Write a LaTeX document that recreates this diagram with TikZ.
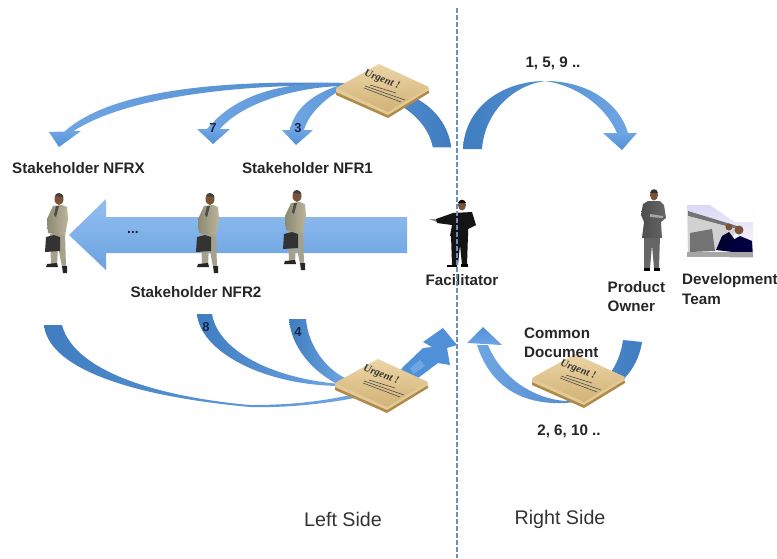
\documentclass[tikz,border=0pt]{standalone}
\usepackage{fontspec}
\setmainfont{Liberation Sans}
\newfontfamily\handf{Liberation Serif}
\definecolor{ad}{HTML}{3F7DC0}
\definecolor{am}{HTML}{6FA5E3}
\definecolor{al}{HTML}{93BFF0}
\definecolor{hd}{HTML}{4F90D8}
\definecolor{navy}{HTML}{14264F}
\definecolor{tan1}{HTML}{EBD5A6}
\definecolor{tan2}{HTML}{D2B276}
\definecolor{tan3}{HTML}{B08A48}
\definecolor{suit}{HTML}{B9B49A}
\definecolor{suitd}{HTML}{8E8A72}
\definecolor{leg}{HTML}{A5A18A}
\definecolor{skin}{HTML}{7A5238}
\tikzset{
 darkleft/.style={left color=ad,middle color=al,right color=am},
 darkright/.style={left color=am,middle color=al,right color=ad},
 headsh/.style={top color=am,bottom color=hd},
 lowband/.style={left color=ad,right color=am},
 lab/.style={font=\fontsize{15.2}{17}\selectfont\bfseries,text=black!85,inner sep=0pt},
 labl/.style={lab,anchor=west},
 num/.style={font=\fontsize{13}{15}\selectfont\bfseries,text=navy,inner sep=0pt},
 side/.style={font=\fontsize{19.7}{22}\selectfont,text=black!80,inner sep=0pt},
}
\newcommand{\urgentnote}[3]{%
 \begin{scope}[shift={(#1,#2)}]
  \fill[tan3] (0,1) -- (43,-22) -- (93,1) -- (93,3) -- (52,28) -- (0,5) -- cycle;
  \fill[tan1!85!tan3] (0,-1) -- (43,-24) -- (93,-2) -- (93,0) -- (52,25) -- (0,2) -- cycle;
  \shade[top color=tan1,bottom color=tan2] (0,-2) -- (43,-26) -- (93,-3) -- (52,22) -- cycle;
  \node[rotate=-20,inner sep=0pt,text=black!80,font=\fontsize{10.5}{11}\selectfont\handf\bfseries\itshape] (#3) at (46,-10) {Urgent !};
  \draw[black!70,line width=.6pt] (28,-2) -- (65,12);
  \draw[black!70,line width=.6pt] (29,-4) -- (69,10);
  \draw[black!70,line width=.6pt] (34,-5) -- (60,3);
 \end{scope}}
\newcommand{\stakeperson}[2]{%
 \begin{scope}[shift={(#1,#2)}]
  \fill[leg] (-9,35) -- (-8,66) -- (-2,66) -- (-1,47) -- (3,68) -- (7,68) -- (6,35) -- cycle;
  \fill[black!85] (-12,65) -- (-2,64) -- (-1,68) -- (-13,68) -- cycle;
  \fill[black!85] (3,67) -- (8,67) -- (8,74) -- (4,74) -- cycle;
  \shade[left color=suitd,right color=suit] (-6,7) -- (3,6) -- (8,8) -- (9,20) -- (6,37) -- (-11,34) -- (-12,20) -- cycle;
  \fill[black!70] (-3,7) -- (0,7) -- (-3,18) -- (-5,16) -- cycle;
  \fill[black!80] (-13,38) -- (-5,36) -- (1,38) -- (1,52) -- (-14,53) -- cycle;
  \fill[skin] (0,0) ellipse (4.5 and 6);
  \fill[black!75] (-4,-3) .. controls (-3,-7) and (3,-7) .. (4.5,-2) -- cycle;
 \end{scope}}
\begin{document}
\begin{tikzpicture}[x=1pt,y=-1pt]
\useasboundingbox (0,0) rectangle (777,558);
\fill[white] (0,0) rectangle (777,558);

% top left arrows
\shade[darkright] (451,147) .. controls (445,105) and (405,83) .. (340,83) .. controls (220,80) and (110,90) .. (64,132) -- (72,132) .. controls (120,100) and (220,85) .. (340,85) .. controls (380,88) and (425,110) .. (433,147) -- cycle;
\shade[headsh] (49,132) -- (81,131) -- (59,147) -- cycle;
\shade[darkright] (451,147) .. controls (445,105) and (400,84) .. (340,83) .. controls (280,82) and (235,95) .. (207,129) -- (220,129) .. controls (240,105) and (290,88) .. (340,86) .. controls (380,90) and (425,110) .. (433,147) -- cycle;
\shade[headsh] (197,129) -- (230,129) -- (213,144) -- cycle;
\shade[darkright] (451,147) .. controls (445,105) and (400,84) .. (345,84) .. controls (320,90) and (295,105) .. (290,130) -- (304,130) .. controls (308,115) and (325,97) .. (345,88) .. controls (390,92) and (425,110) .. (433,147) -- cycle;
\shade[headsh] (282,130) -- (313,130) -- (296,145) -- cycle;

% top right arrow
\shade[darkleft] (463,149) .. controls (465,105) and (505,81) .. (545,81) .. controls (590,81) and (620,105) .. (628,133) -- (617,133) .. controls (605,105) and (575,85) .. (545,81) .. controls (515,85) and (485,110) .. (482,149) -- cycle;
\shade[headsh] (603,133) -- (637,133) -- (622,150) -- cycle;

% middle block arrow
\shade[top color=al,bottom color=am!92!ad] (407,217) -- (106,217) -- (106,199) -- (69,235) -- (106,270) -- (106,253) -- (407,253) -- cycle;
\node[num,font=\fontsize{14}{15}\selectfont\bfseries] (dots) at (133,232) {...};

% bottom left arrows
\shade[lowband] (44,325) .. controls (48,365) and (120,395) .. (250,407) .. controls (290,408) and (330,403) .. (360,397) -- (360,393) .. controls (320,402) and (290,405) .. (250,405) .. controls (170,398) and (75,375) .. (62,325) -- cycle;
\shade[lowband] (197,314) .. controls (200,350) and (260,385) .. (340,386) -- (340,384) .. controls (270,378) and (218,350) .. (212,314) -- cycle;
\shade[lowband] (289,319) .. controls (291,345) and (310,372) .. (345,388) -- (345,378) .. controls (325,368) and (308,345) .. (306,319) -- cycle;
\fill[hd] (443,328) -- (457,345) -- (447,348) -- (450,365) -- (438,363) -- (418,378) -- (395,382) -- (402,368) -- (423,348) -- (432,347) -- (423,342) -- cycle;
\fill[am] (410,368) -- (420,360) -- (425,366) -- (414,374) -- cycle;

% bottom right arrow
\shade[left color=am,middle color=al,right color=ad] (642,342) .. controls (637,375) and (610,400) .. (565,403) .. controls (520,405) and (490,385) .. (477,345) -- (488,345) .. controls (500,375) and (530,398) .. (565,401) .. controls (595,395) and (618,375) .. (623,340) -- cycle;
\shade[bottom color=am,top color=hd] (467,343) -- (483,327) -- (502,345) -- cycle;

% notes
\urgentnote{336}{90}{noteA}
\urgentnote{335}{385}{noteB}
\urgentnote{532}{380}{noteC}

% stakeholders
\stakeperson{59}{199}
\stakeperson{210}{199}
\stakeperson{297}{196}

% facilitator
\begin{scope}
 \fill[black!45] (429,219) -- (437,219) -- (437,222) -- cycle;
 \fill[black!92] (451,235) -- (452,265) -- (458,265) -- (460,245) -- (462,265) -- (467,265) -- (468,235) -- cycle;
 \fill[black!92] (453,213) -- (472,212) -- (476,225) -- (468,229) -- (468,236) -- (450,236) -- (452,225) -- (437,223) -- (436,219) -- cycle;
 \fill[black] (447,265) rectangle (457,267);
 \fill[black] (461,264) rectangle (468,267);
 \fill[skin] (462,205) ellipse (4 and 5.5);
 \fill[black] (458,203) .. controls (459,199) and (465,199) .. (466,203) -- cycle;
\end{scope}

% product owner
\begin{scope}
 \fill[black!60] (644,236) -- (644,268) -- (650,268) -- (652,245) -- (654,268) -- (659,268) -- (660,236) -- cycle;
 \shade[left color=black!70,right color=black!60] (648,201) -- (660,201) -- (664,205) -- (666,218) -- (661,222) -- (662,238) -- (642,238) -- (644,222) -- (641,215) -- (643,204) -- cycle;
 \fill[black!35] (650,214) -- (663,216) -- (663,218) -- (650,217) -- cycle;
 \fill[black] (644,268) rectangle (650,271);
 \fill[black] (654,268) rectangle (660,271);
 \fill[skin] (654,195) ellipse (4 and 5.5);
 \fill[black!80] (650,193) .. controls (651,188) and (657,188) .. (658,193) -- cycle;
\end{scope}

% development team picture
\begin{scope}
 \clip (687,205) rectangle (753,257);
 \shade[top color=black!25!blue!15!white,bottom color=white] (687,205) rectangle (753,257);
 \fill[white] (710,205) -- (753,205) -- (753,222) -- (735,222) -- cycle;
 \fill[black!55] (688,211) -- (737,226) -- (737,229) -- (688,216) -- cycle;
 \fill[black!18] (688,216) -- (737,229) -- (725,250) -- (688,252) -- cycle;
 \fill[black!55] (690,233) -- (712,229) -- (715,251) -- (690,252) -- cycle;
 \fill[black!80!blue] (716,250) -- (722,236) -- (729,232) -- (735,240) -- (733,252) -- cycle;
 \fill[black!75!blue] (730,257) -- (733,240) -- (740,236) -- (752,241) -- (753,257) -- cycle;
 \fill[skin] (729,227) circle (3.5);
 \fill[skin] (739,230) circle (4.5);
 \fill[black!35] (687,252) rectangle (753,257);
\end{scope}

% labels
\node[lab] (nfrx) at (78.5,168) {Stakeholder NFRX};
\node[lab] (nfr1) at (307.5,168) {Stakeholder NFR1};
\node[lab] (nfr2) at (196,292.5) {Stakeholder NFR2};
\node[lab] (fac) at (462,280) {Facilitator};
\node[labl] (po1) at (607.5,287.5) {Product};
\node[labl] (po2) at (607.5,306) {Owner};
\node[labl] (dev1) at (682,281) {Development};
\node[labl] (dev2) at (682,299.5) {Team};
\node[lab] (r1) at (553,63) {1, 5, 9 ..};
\node[labl] (cd1) at (524,333.5) {Common};
\node[labl] (cd2) at (524,352) {Document};
\node[lab] (r2) at (569,431) {2, 6, 10 ..};
\node[num] (n7) at (213,128) {7};
\node[num] (n3) at (298,128) {3};
\node[num] (n8) at (206,327) {8};
\node[num] (n4) at (298,332) {4};
\node[side] (ls) at (343,519) {Left Side};
\node[side] (rs) at (560,519) {Right Side};

% divider
\definecolor{divc}{HTML}{6C90BC}
\draw[color=divc,line width=1.5pt,dash pattern=on 4.5pt off 2.5pt] (457,8) -- (457,558);
\end{tikzpicture}
\end{document}
